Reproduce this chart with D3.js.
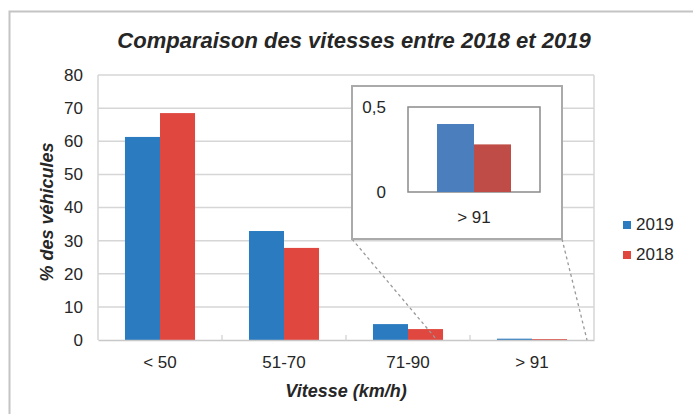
<!DOCTYPE html>
<html><head><meta charset="utf-8">
<script src="https://cdn.jsdelivr.net/npm/d3@7"></script>
<style>body{margin:0;background:#fff}svg{display:block}text{font-family:"Liberation Sans",Arial,sans-serif;fill:#262626}</style>
</head><body><svg id="c" width="693" height="414"></svg>
<script>
const categories = ["< 50", "51-70", "71-90", "> 91"];
const series = ["2019", "2018"];
const values2019 = [61.3, 32.9, 4.8, 0.40];
const values2018 = [68.5, 27.8, 3.3, 0.28];
const yTicks = [0, 10, 20, 30, 40, 50, 60, 70, 80];
const insetCategory = "> 91";
const insetTicks = [0, 0.5];
const insetTickLabels = ["0", "0,5"];

const svg = d3.select("#c");
const mainColors = {"2019": "#2a7bc0", "2018": "#e0473f"};
const insetColors = {"2019": "#4a7ebc", "2018": "#bf4c47"};
const data = categories.map((c, i) => ({cat: c, "2019": values2019[i], "2018": values2018[i]}));

// outer frame
svg.append("path").attr("d", "M9.5,414 V11.5 H693").attr("fill", "none").attr("stroke", "#c4c4c4").attr("stroke-width", 2);

// title
svg.append("text").attr("x", 354).attr("y", 48).attr("text-anchor", "middle")
  .attr("font-size", 22).attr("font-weight", "bold").attr("font-style", "italic")
  .text("Comparaison des vitesses entre 2018 et 2019");

const m = {left: 98, right: 594, top: 75, bottom: 340};
const x0 = d3.scaleBand().domain(categories).range([m.left, m.right]).paddingInner(0.435).paddingOuter(0.2175);
const x1 = d3.scaleBand().domain(series).range([0, x0.bandwidth()]);
const y = d3.scaleLinear().domain([0, 80]).range([m.bottom, m.top]);

// gridlines
svg.append("g").selectAll("line").data(yTicks.filter(t => t > 0)).join("line")
  .attr("x1", m.left).attr("x2", m.right).attr("y1", d => y(d)).attr("y2", d => y(d))
  .attr("stroke", "#d6d6d6").attr("stroke-width", 1.5);
// plot frame sides
svg.append("line").attr("x1", m.left).attr("x2", m.left).attr("y1", m.top).attr("y2", m.bottom).attr("stroke", "#d6d6d6").attr("stroke-width", 1.5);
svg.append("line").attr("x1", m.right).attr("x2", m.right).attr("y1", m.top).attr("y2", m.bottom).attr("stroke", "#d6d6d6").attr("stroke-width", 1.5);

// y axis labels
const yAxis = d3.axisLeft(y).tickValues(yTicks).tickSize(0).tickPadding(0);
const gy = svg.append("g").attr("transform", `translate(${m.left - 15},0)`).call(yAxis);
gy.select(".domain").remove();
gy.selectAll("text").attr("font-size", 17).attr("font-family", "Liberation Sans, Arial, sans-serif").attr("fill", "#262626");

// bars
const groups = svg.append("g").selectAll("g").data(data).join("g")
  .attr("transform", d => `translate(${x0(d.cat)},0)`);
groups.selectAll("rect").data(d => series.map(s => ({s, v: d[s]}))).join("rect")
  .attr("x", d => x1(d.s)).attr("width", x1.bandwidth())
  .attr("y", d => y(d.v)).attr("height", d => y(0) - y(d.v))
  .attr("fill", d => mainColors[d.s]);

// x axis
const xAxis = d3.axisBottom(x0).tickSize(0).tickPadding(16);
const gx = svg.append("g").attr("transform", `translate(0,${m.bottom})`).call(xAxis);
gx.select(".domain").attr("stroke", "#c8c8c8").attr("stroke-width", 1.5);
gx.selectAll("text").attr("font-size", 17).attr("font-family", "Liberation Sans, Arial, sans-serif").attr("fill", "#262626");
// small ticks between categories
svg.append("g").selectAll("line").data(categories.slice(1)).join("line")
  .attr("x1", c => x0(c) - (x0.step() - x0.bandwidth()) / 2).attr("x2", c => x0(c) - (x0.step() - x0.bandwidth()) / 2)
  .attr("y1", m.bottom - 5).attr("y2", m.bottom + 1).attr("stroke", "#cfcfcf").attr("stroke-width", 1.2);

// axis titles
svg.append("text").attr("x", 346).attr("y", 397).attr("text-anchor", "middle")
  .attr("font-size", 18).attr("font-weight", "bold").attr("font-style", "italic").text("Vitesse (km/h)");
svg.append("text").attr("transform", "translate(53,212) rotate(-90)").attr("text-anchor", "middle")
  .attr("font-size", 18).attr("font-weight", "bold").attr("font-style", "italic").text("% des véhicules");

// inset
const inset = {x0: 352, x1: 562, y0: 86, y1: 239};
const ib = {left: 408, right: 540, top: 107, bottom: 192};
// dashed connectors
const zoomCat = x0(insetCategory);
svg.append("line").attr("x1", inset.x0).attr("y1", inset.y1).attr("x2", zoomCat - 60).attr("y2", m.bottom)
  .attr("stroke", "#999").attr("stroke-width", 1.3).attr("stroke-dasharray", "3,3");
svg.append("line").attr("x1", inset.x1).attr("y1", inset.y1).attr("x2", m.right - 7).attr("y2", m.bottom)
  .attr("stroke", "#999").attr("stroke-width", 1.3).attr("stroke-dasharray", "3,3");

svg.append("rect").attr("x", inset.x0).attr("y", inset.y0).attr("width", inset.x1 - inset.x0).attr("height", inset.y1 - inset.y0)
  .attr("fill", "#fff").attr("stroke", "#aaaaaa").attr("stroke-width", 2);
svg.append("rect").attr("x", ib.left).attr("y", ib.top).attr("width", ib.right - ib.left).attr("height", ib.bottom - ib.top)
  .attr("fill", "#fff").attr("stroke", "#8a8a8a").attr("stroke-width", 1.5);

const ix = d3.scaleBand().domain(series).range([437, 511]);
const iy = d3.scaleLinear().domain([0, 0.5]).range([ib.bottom, ib.top]);
const insetIdx = categories.indexOf(insetCategory);
svg.append("g").selectAll("rect").data(series.map(s => ({s, v: s === "2019" ? values2019[insetIdx] : values2018[insetIdx]}))).join("rect")
  .attr("x", d => ix(d.s)).attr("width", ix.bandwidth())
  .attr("y", d => iy(d.v)).attr("height", d => iy(0) - iy(d.v))
  .attr("fill", d => insetColors[d.s]);
svg.append("g").selectAll("text").data(insetTicks).join("text")
  .attr("x", 386).attr("y", d => iy(d) + 6).attr("text-anchor", "end")
  .attr("font-size", 17).text((d, i) => insetTickLabels[i]);
svg.append("text").attr("x", 474).attr("y", 223).attr("text-anchor", "middle").attr("font-size", 17).text(insetCategory);

// legend
const lg = svg.append("g").selectAll("g").data(series).join("g")
  .attr("transform", (d, i) => `translate(623,${221 + i * 30})`);
lg.append("rect").attr("width", 8).attr("height", 8).attr("fill", d => mainColors[d]);
lg.append("text").attr("x", 13).attr("y", 9).attr("font-size", 17).text(d => d);
</script></body></html>
